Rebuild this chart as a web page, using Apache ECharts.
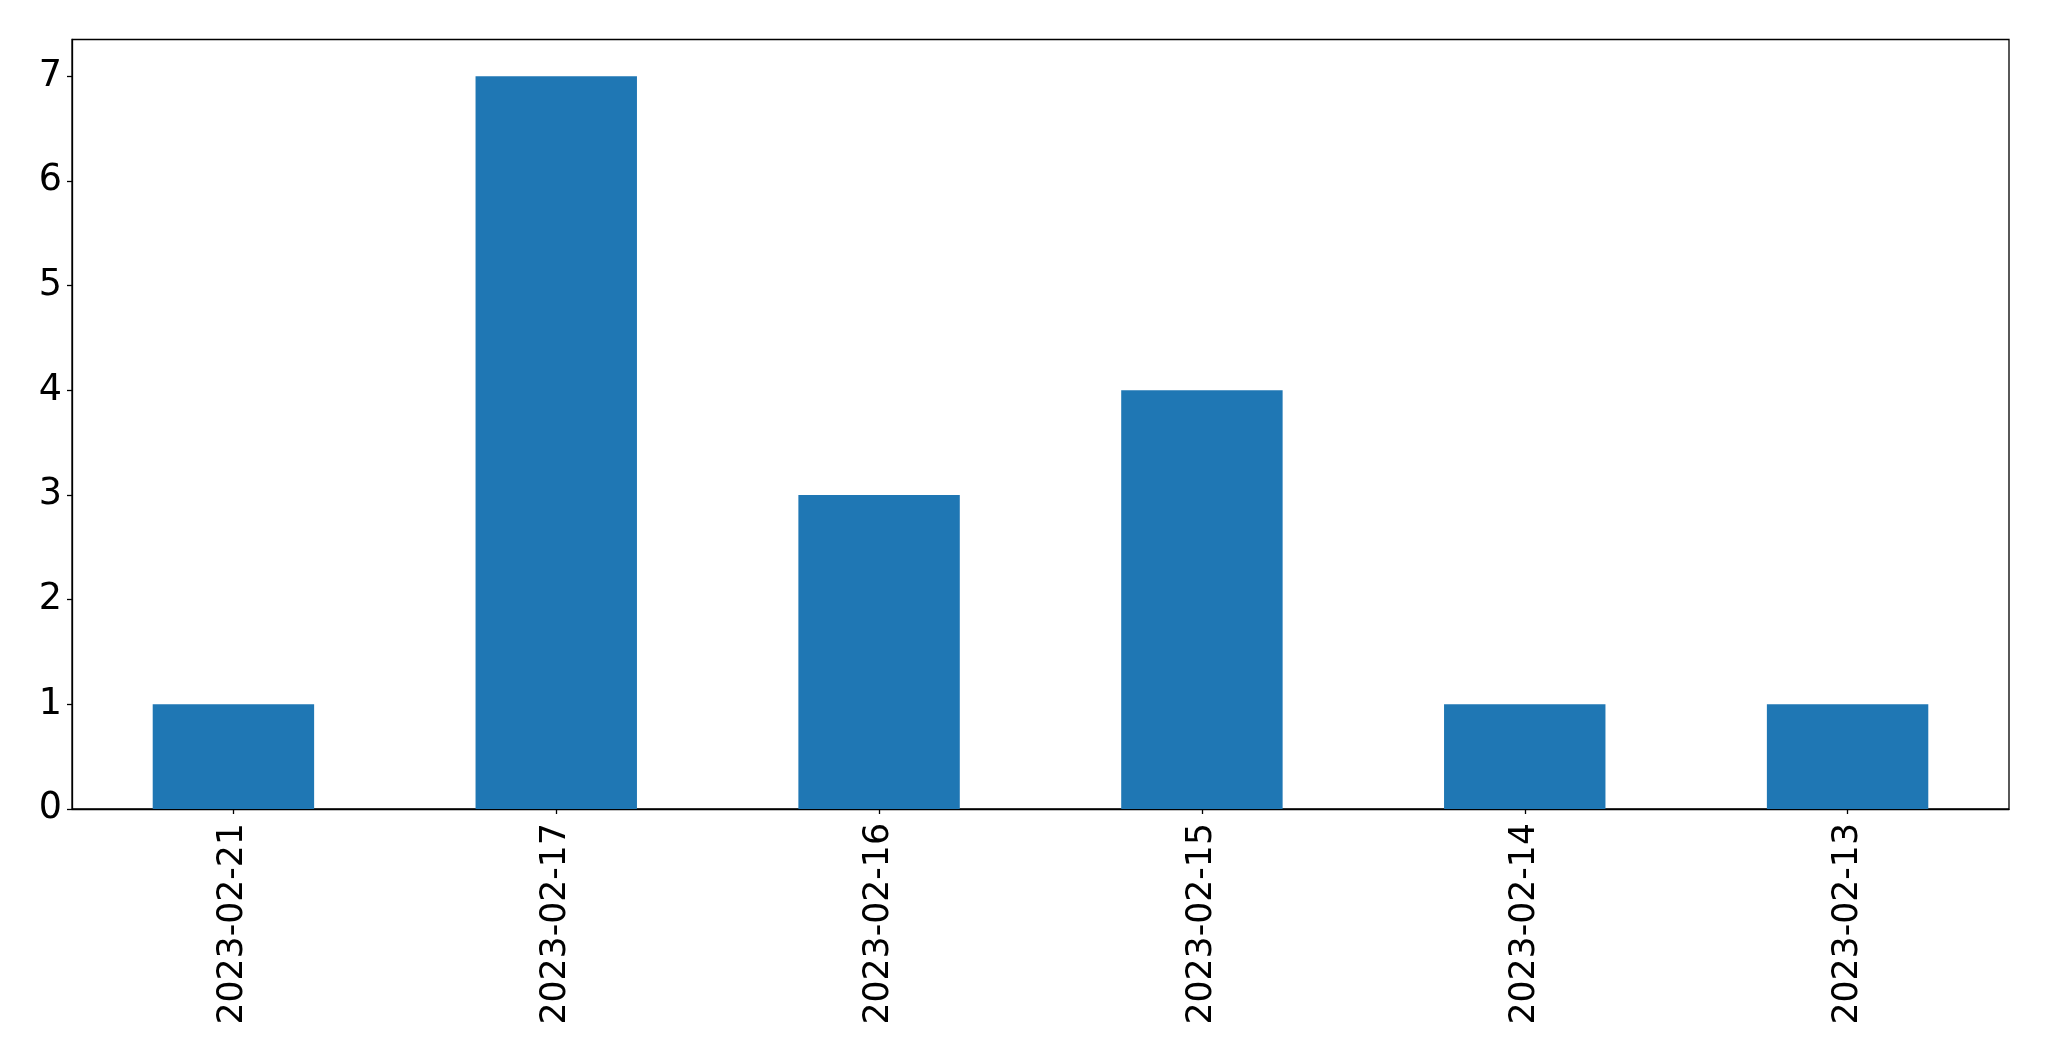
<!DOCTYPE html>
<html>
<head>
<meta charset="utf-8">
<script src="https://cdn.jsdelivr.net/npm/echarts@6/dist/echarts.min.js"></script>
<style>html,body{margin:0;padding:0;background:#fff}#c{width:2049px;height:1061px}</style>
</head>
<body>
<div id="c"></div>
<script>
const categories = ["2023-02-21", "2023-02-17", "2023-02-16", "2023-02-15", "2023-02-14", "2023-02-13"];
const counts = [1, 7, 3, 4, 1, 1];
const yTicks = [0, 1, 2, 3, 4, 5, 6, 7];

const chart = echarts.init(document.getElementById('c'), null, {renderer: 'canvas'});
const font = 'DejaVu Sans';
chart.setOption({
  animation: false,
  backgroundColor: '#ffffff',
  grid: {
    left: 72, right: 40, top: 39.5, bottom: 252,
    show: true, borderColor: '#000', borderWidth: 1.3, backgroundColor: 'transparent'
  },
  xAxis: {
    type: 'category',
    data: categories,
    boundaryGap: true,
    axisLine: {show: true, lineStyle: {color: '#000', width: 1.3}},
    axisTick: {show: true, alignWithLabel: true, length: 5, lineStyle: {color: '#000', width: 1.3}},
    axisLabel: {rotate: 90, fontFamily: font, fontSize: 34.7, color: '#000', margin: 14, interval: 0},
    splitLine: {show: false}
  },
  yAxis: {
    type: 'value',
    min: 0, max: 7.35,
    axisLine: {show: true, lineStyle: {color: '#000', width: 1.3}},
    axisTick: {show: true, length: 5, lineStyle: {color: '#000', width: 1.3}, customValues: yTicks},
    axisLabel: {fontFamily: font, fontSize: 36.5, color: '#000', margin: 10, customValues: yTicks},
    splitLine: {show: false}
  },
  series: [{
    type: 'bar',
    data: counts,
    barWidth: '50%',
    itemStyle: {color: '#1f77b4'}
  }]
});
</script>
</body>
</html>
